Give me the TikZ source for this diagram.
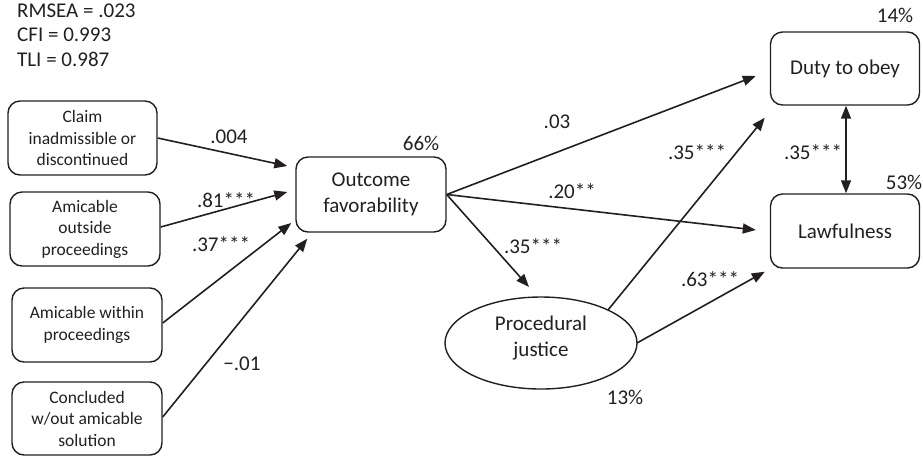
\documentclass[tikz,border=0pt]{standalone}
\usepackage{fontspec}
\setmainfont{Carlito}
\usetikzlibrary{arrows.meta,shapes.geometric,calc}
\definecolor{ink}{HTML}{231F20}
\begin{document}
\begin{tikzpicture}[x=1pt,y=-1pt,
  every node/.style={text=ink},
  bigtext/.style={font=\fontsize{21}{26}\selectfont},
  smalltext/.style={font=\fontsize{17.5}{21.5}\selectfont},
  lbox/.style={draw=ink,line width=1.4pt,rounded corners=12pt,align=center,inner sep=0pt,smalltext,minimum width=150pt,minimum height=74pt},
  rbox/.style={draw=ink,line width=1.4pt,rounded corners=12pt,align=center,inner sep=0pt,bigtext,minimum width=149pt,minimum height=74pt},
  ell/.style={draw=ink,line width=1.4pt,ellipse,align=center,inner sep=0pt,bigtext,minimum width=192pt,minimum height=92pt},
  conn/.style={draw=ink,line width=1.6pt,-{Triangle[length=13pt,width=10pt]}},
  dconn/.style={draw=ink,line width=1.6pt,{Triangle[length=13pt,width=10pt]}-{Triangle[length=13pt,width=10pt]}},
  lab/.style={bigtext,inner sep=0pt}
]
\useasboundingbox (0,0) rectangle (923,456);
% fit statistics
\node[lab,anchor=base west] (fit1) at (17,17) {RMSEA = .023};
\node[lab,anchor=base west] (fit2) at (17,41.5) {CFI = 0.993};
\node[lab,anchor=base west] (fit3) at (17,66) {TLI = 0.987};
% left boxes
\node[lbox,minimum width=149pt] (c1) at (82.5,138) {Claim\\inadmissible or\\discontinued};
\node[lbox] (c2) at (85,229) {Amicable\\outside\\proceedings};
\node[lbox] (c3) at (87,325) {Amicable within\\proceedings};
\node[lbox,minimum height=73pt] (c4) at (87,418.5) {Concluded\\w/out amicable\\solution};
% central and right
\node[rbox,minimum width=150pt,minimum height=75pt] (out) at (371,194.5) {Outcome\\favorability};
\node[rbox,minimum height=73pt] (duty) at (845,68.5) {Duty to obey};
\node[rbox] (law) at (845,231) {Lawfulness};
\node[ell] (pj) at (541,343) {\\[-22pt]Procedural\\justice};
% arrow end coordinates
\coordinate (e1) at ($(out.west)+(-8,-28.5)$);
\coordinate (e2) at ($(out.west)+(-8,-2.5)$);
\coordinate (e3) at ($(out.west)+(-4,28.5)$);
\coordinate (e4) at ($(out.south west)+(12,6)$);
\coordinate (s1) at ($(c1.east)+(0,0)$);
\coordinate (s2) at ($(c2.east)+(0,-2)$);
\coordinate (s3) at ($(c3.east)+(0,-2)$);
\coordinate (s4) at ($(c4.east)+(0,-1.5)$);
\coordinate (ed) at ($(duty.west)+(-14,7.5)$);
\coordinate (el) at ($(law.west)+(-14,-1)$);
\coordinate (ep) at ($(pj.center)+(-12,-56)$);
\coordinate (pd) at ($(duty.south west)+(-5,12)$);
\coordinate (pl) at ($(law.south west)+(-5,3)$);
\coordinate (ps) at ($(pj.center)+(67,-33)$);
\coordinate (pe) at ($(pj.center)+(96,0)$);
% connectors
\draw[conn] (s1) -- (e1);
\draw[conn] (s2) -- (e2);
\draw[conn] (s3) -- (e3);
\draw[conn] (s4) -- (e4);
\draw[conn] (out.east) -- (ed);
\draw[conn] (out.east) -- (el);
\draw[conn] (out.east) -- (ep);
\draw[conn] (ps) -- (pd);
\draw[conn] (pe) -- (pl);
\draw[dconn] ($(duty.south)+(1,0)$) -- ($(law.north)+(1,0)$);
% labels
\node[lab] (l1) at (229,137) {.004};
\node[lab] (l2) at (226,200) {.81***};
\node[lab] (l3) at (221,244) {.37***};
\node[lab] (l4) at (242,364) {−.01};
\node[lab] (p1) at (421,143) {66\%};
\node[lab] (l5) at (557,122) {.03};
\node[lab] (l6) at (572,191) {.20**};
\node[lab] (l7) at (533,246) {.35***};
\node[lab] (l8) at (697,152) {.35***};
\node[lab] (l9) at (813,152) {.35***};
\node[lab] (l10) at (710,279) {.63***};
\node[lab] (p2) at (625,397) {13\%};
\node[lab] (p3) at (895,15) {14\%};
\node[lab] (p4) at (904,182) {53\%};
\end{tikzpicture}
\end{document}
